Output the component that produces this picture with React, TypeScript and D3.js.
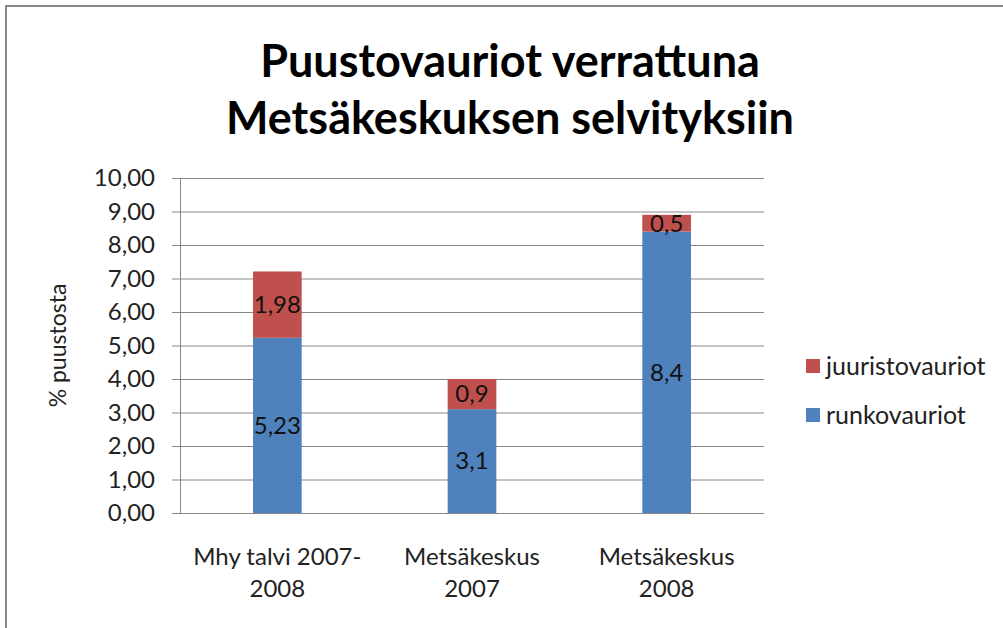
import * as d3 from "d3";
import { useEffect, useRef } from "react";

const categories = [["Mhy talvi 2007-", "2008"], ["Metsäkeskus", "2007"], ["Metsäkeskus", "2008"]];
const runkovauriot = [5.23, 3.1, 8.4];
const juuristovauriot = [1.98, 0.9, 0.5];
const runkoLabels = ["5,23", "3,1", "8,4"];
const juuriLabels = ["1,98", "0,9", "0,5"];
const yTicks = [0, 1, 2, 3, 4, 5, 6, 7, 8, 9, 10];
const seriesNames = ["juuristovauriot", "runkovauriot"];

const BLUE = "#4f81bd";
const RED = "#c0504d";
const FONT = "Lato, 'Open Sans', sans-serif";

export default function App() {
  const ref = useRef<SVGSVGElement | null>(null);

  useEffect(() => {
    if (!ref.current) return;
    const width = 1003;
    const height = 628;
    const margin = { top: 178, right: 239, bottom: 115, left: 180 };
    const innerW = width - margin.left - margin.right;
    const innerH = height - margin.top - margin.bottom;

    const svg = d3.select(ref.current);
    svg.selectAll("*").remove();

    svg.append("rect").attr("width", width).attr("height", height).attr("fill", "#fff");
    // chart frame: only its top and left edges show in the picture
    svg.append("line").attr("x1", 6).attr("x2", 6).attr("y1", 6).attr("y2", height).attr("stroke", "#888").attr("stroke-width", 2);
    svg.append("line").attr("x1", 5).attr("x2", width).attr("y1", 6).attr("y2", 6).attr("stroke", "#888").attr("stroke-width", 2);

    const title = svg.append("text").attr("text-anchor", "middle").attr("font-family", FONT).attr("font-weight", "bold").attr("font-size", 45).attr("fill", "#000");
    title.append("tspan").attr("x", 510).attr("y", 77).text("Puustovauriot verrattuna");
    title.append("tspan").attr("x", 510).attr("y", 134).text("Metsäkeskuksen selvityksiin");

    const x = d3.scaleBand<number>().domain(d3.range(categories.length)).range([0, innerW]).paddingInner(0.75).paddingOuter(0.375);
    const y = d3.scaleLinear().domain([0, 10]).range([innerH, 0]);

    const g = svg.append("g").attr("transform", `translate(${margin.left},${margin.top})`);

    g.append("g")
      .selectAll("line")
      .data(yTicks)
      .join("line")
      .attr("x1", -8)
      .attr("x2", innerW)
      .attr("y1", (d) => y(d) + 0.5)
      .attr("y2", (d) => y(d) + 0.5)
      .attr("stroke", "#868686")
      .attr("stroke-width", 1);

    g.append("line").attr("x1", 0.5).attr("x2", 0.5).attr("y1", 0).attr("y2", innerH).attr("stroke", "#868686");

    g.append("g")
      .selectAll("text")
      .data(yTicks)
      .join("text")
      .attr("x", -25)
      .attr("y", (d) => y(d))
      .attr("dy", "0.35em")
      .attr("text-anchor", "end")
      .attr("font-family", FONT)
      .attr("font-size", 24)
      .attr("fill", "#222")
      .text((d) => d3.format(".2f")(d).replace(".", ","));

    svg.append("text")
      .attr("transform", `translate(66,${margin.top + innerH / 2}) rotate(-90)`)
      .attr("text-anchor", "middle")
      .attr("font-family", FONT)
      .attr("font-size", 23)
      .attr("fill", "#222")
      .text("% puustosta");

    const bars = g.append("g");
    categories.forEach((_, i) => {
      const x0 = x(i)!;
      const bw = x.bandwidth();
      const r = runkovauriot[i];
      const j = juuristovauriot[i];
      bars.append("rect").attr("x", x0).attr("width", bw).attr("y", y(r)).attr("height", y(0) - y(r)).attr("fill", BLUE);
      bars.append("rect").attr("x", x0).attr("width", bw).attr("y", y(r + j)).attr("height", y(r) - y(r + j)).attr("fill", RED);
      bars.append("text").attr("x", x0 + bw / 2).attr("y", y(r / 2)).attr("dy", "0.35em").attr("text-anchor", "middle")
        .attr("font-family", FONT).attr("font-size", 24).attr("fill", "#111").text(runkoLabels[i]);
      bars.append("text").attr("x", x0 + bw / 2).attr("y", y(r + j / 2)).attr("dy", "0.35em").attr("text-anchor", "middle")
        .attr("font-family", FONT).attr("font-size", 24).attr("fill", "#111").text(juuriLabels[i]);
      const lbl = g.append("text").attr("text-anchor", "middle").attr("font-family", FONT).attr("font-size", 24).attr("fill", "#222");
      categories[i].forEach((line, k) => {
        lbl.append("tspan").attr("x", x0 + bw / 2).attr("y", innerH + 52 + k * 32).text(line);
      });
    });

    const leg = svg.append("g").attr("transform", "translate(806,359)");
    seriesNames.forEach((name, k) => {
      const row = leg.append("g").attr("transform", `translate(0,${k * 49})`);
      row.append("rect").attr("width", 14).attr("height", 14).attr("fill", k === 0 ? RED : BLUE);
      row.append("text").attr("x", 20).attr("y", 7).attr("dy", "0.35em").attr("font-family", FONT).attr("font-size", 25).attr("fill", "#222").text(name);
    });
  }, []);

  return (
    <div style={{ position: "absolute", left: 0, top: 0, width: 1003, height: 628, overflow: "hidden" }}>
      <svg ref={ref} width={1003} height={628} style={{ display: "block" }} role="img" aria-label="Puustovauriot verrattuna Metsäkeskuksen selvityksiin" />
    </div>
  );
}
